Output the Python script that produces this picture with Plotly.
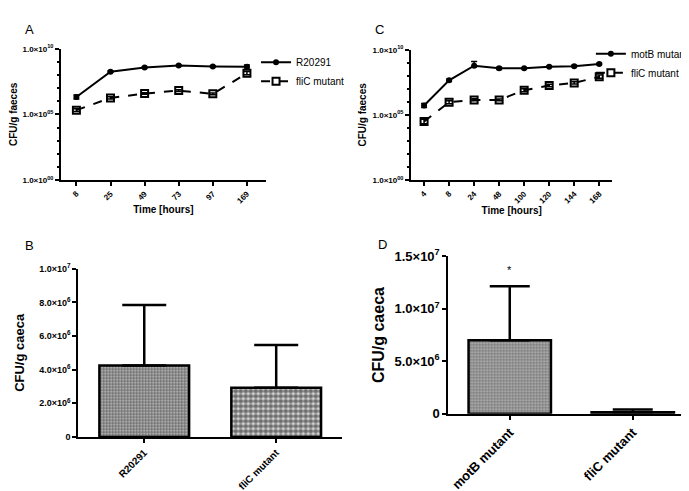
import plotly.graph_objects as go

# Panel A - faecal shedding, R20291 vs fliC mutant
hours_a = ["8", "25", "49", "73", "97", "169"]
r20291_a = [2.1e6, 1.8e8, 3.8e8, 5.2e8, 4.5e8, 4.2e8]
r20291_a_up = [0.9e6, 0.3e8, 0.4e8, 0.5e8, 0.5e8, 1.6e8]
r20291_a_lo = [0.6e6, 0.2e8, 0.3e8, 0.4e8, 0.4e8, 0.6e8]
flic_a = [2.1e5, 1.8e6, 3.9e6, 6.5e6, 3.7e6, 1.35e8]
flic_a_up = [0.6e5, 0.4e6, 0.6e6, 1.2e6, 0.6e6, 0.5e8]
flic_a_lo = [0.4e5, 0.3e6, 0.5e6, 0.9e6, 0.5e6, 0.3e8]

# Panel C - faecal shedding, motB vs fliC mutant
hours_c = ["4", "8", "24", "48", "100", "120", "144", "168"]
motb_c = [5.2e5, 4.5e7, 5.9e8, 3.7e8, 3.7e8, 5.0e8, 5.5e8, 7.9e8]
motb_c_up = [2.2e5, 1.2e7, 6.7e8, 0.8e8, 0.5e8, 0.7e8, 0.8e8, 1.2e8]
motb_c_lo = [1.5e5, 0.9e7, 1.2e8, 0.6e8, 0.4e8, 0.5e8, 0.6e8, 0.9e8]
flic_c = [3.1e4, 9.3e5, 1.4e6, 1.4e6, 7.8e6, 1.8e7, 2.8e7, 8.5e7]
flic_c_up = [1.6e4, 3.0e5, 3.0e5, 2.5e5, 2.5e6, 4.5e6, 7.0e6, 3.0e7]
flic_c_lo = [1.0e4, 2.0e5, 2.0e5, 2.0e5, 1.8e6, 3.5e6, 5.0e6, 2.0e7]

# Panel B - caecal counts
strains_b = ["R20291", "fliC mutant"]
caeca_b = [4.25e6, 2.93e6]
caeca_b_err = [3.59e6, 2.54e6]

# Panel D - caecal counts
strains_d = ["motB mutant", "fliC mutant"]
caeca_d = [7.0e6, 1.5e5]
caeca_d_err = [5.15e6, 2.5e5]

log_ticks = [1, 1e5, 1e10]
log_labels = ["1.0×10<sup>00</sup>", "1.0×10<sup>05</sup>", "1.0×10<sup>10</sup>"]
b_ticks = [0, 2e6, 4e6, 6e6, 8e6, 1e7]
b_labels = ["0", "2.0×10<sup>6</sup>", "4.0×10<sup>6</sup>", "6.0×10<sup>6</sup>",
            "8.0×10<sup>6</sup>", "1.0×10<sup>7</sup>"]
d_ticks = [0, 5e6, 1e7, 1.5e7]
d_labels = ["0", "5.0×10<sup>6</sup>", "1.0×10<sup>7</sup>", "1.5×10<sup>7</sup>"]

FONT = "Liberation Sans, Arial, sans-serif"

fig = go.Figure()

def err(up, lo):
    return dict(type="data", array=up, arrayminus=lo, symmetric=False,
                color="black", thickness=1.5, width=3)

fig.add_trace(go.Scatter(x=hours_a, y=r20291_a, error_y=err(r20291_a_up, r20291_a_lo), name="R20291",
                         mode="lines+markers", line=dict(color="black", width=2),
                         marker=dict(symbol="circle", size=6, color="black"),
                         xaxis="x", yaxis="y", legend="legend"))
fig.add_trace(go.Scatter(x=hours_a, y=flic_a, error_y=err(flic_a_up, flic_a_lo), name="fliC mutant",
                         mode="lines+markers", line=dict(color="black", width=2, dash="dash"),
                         marker=dict(symbol="square-open", size=7, color="black", line=dict(width=2)),
                         xaxis="x", yaxis="y", legend="legend"))

fig.add_trace(go.Scatter(x=hours_c, y=motb_c, error_y=err(motb_c_up, motb_c_lo), name="motB mutant",
                         mode="lines+markers", line=dict(color="black", width=2),
                         marker=dict(symbol="circle", size=6, color="black"),
                         xaxis="x2", yaxis="y2", legend="legend2"))
fig.add_trace(go.Scatter(x=hours_c, y=flic_c, error_y=err(flic_c_up, flic_c_lo), name="fliC mutant",
                         mode="lines+markers", line=dict(color="black", width=2, dash="dash"),
                         marker=dict(symbol="square-open", size=7, color="black", line=dict(width=2)),
                         xaxis="x2", yaxis="y2", legend="legend2"))

fig.add_trace(go.Bar(x=strains_b, y=caeca_b, width=0.68, showlegend=False,
                     error_y=dict(type="data", array=caeca_b_err, arrayminus=[0, 0],
                                  symmetric=False, color="black", thickness=2.5, width=22),
                     marker=dict(color="white", line=dict(color="black", width=2.5),
                                 pattern=dict(shape=".", fgcolor="black", bgcolor="#dddddd",
                                              size=[3, 5], solidity=0.7)),
                     xaxis="x3", yaxis="y3"))

fig.add_trace(go.Bar(x=strains_d, y=caeca_d, width=0.67, showlegend=False,
                     error_y=dict(type="data", array=caeca_d_err, arrayminus=[0, 0],
                                  symmetric=False, color="black", thickness=2.5, width=20),
                     marker=dict(color="white", line=dict(color="black", width=2.5),
                                 pattern=dict(shape=".", fgcolor="#333333", bgcolor="#bbbbbb",
                                              size=3, solidity=0.6)),
                     xaxis="x4", yaxis="y4"))

axis_common = dict(showline=True, linecolor="black", linewidth=2, ticks="outside",
                   tickcolor="black", tickwidth=1.5, ticklen=4, showgrid=False,
                   zeroline=False, color="black")

log_y = dict(axis_common, type="log", range=[0, 10], tickvals=log_ticks,
             ticktext=[f"<b>{t}</b>" for t in log_labels],
             tickfont=dict(size=8, family=FONT),
             minor=dict(tickvals=[10 ** k for k in range(11)], ticks="outside", ticklen=2,
                        tickcolor="black"),
             title=dict(text="<b>CFU/g faeces</b>", font=dict(size=10, family=FONT), standoff=4))

fig.update_layout(
    width=689, height=491,
    margin=dict(l=0, r=0, t=0, b=0),
    paper_bgcolor="white", plot_bgcolor="white",
    font=dict(family=FONT, color="black"),
    xaxis=dict(axis_common, domain=[0.077, 0.374], anchor="y", type="category",
               range=[-0.45, 5.55], tickangle=-45, tickfont=dict(size=8, family=FONT),
               tickvals=hours_a, ticktext=[f"<b>{c}</b>" for c in hours_a],
               title=dict(text="<b>Time [hours]</b>", font=dict(size=10, family=FONT), standoff=2)),
    yaxis=dict(log_y, domain=[0.656, 0.933], anchor="x"),
    xaxis2=dict(axis_common, domain=[0.585, 0.877], anchor="y2", type="category",
                range=[-0.52, 7.52], tickangle=-45, tickfont=dict(size=8, family=FONT),
                tickvals=hours_c, ticktext=[f"<b>{c}</b>" for c in hours_c],
                title=dict(text="<b>Time [hours]</b>", font=dict(size=10, family=FONT), standoff=2)),
    yaxis2=dict(log_y, domain=[0.656, 0.931], anchor="x2"),
    xaxis3=dict(axis_common, domain=[0.102, 0.485], anchor="y3", type="category",
                range=[-0.5, 1.5], tickangle=-45, tickfont=dict(size=10, family=FONT),
                tickvals=strains_b, ticktext=[f"<b>{c}</b>" for c in strains_b]),
    yaxis3=dict(axis_common, domain=[0.114, 0.469], anchor="x3", range=[0, 1e7],
                tickvals=b_ticks, ticktext=[f"<b>{t}</b>" for t in b_labels],
                tickfont=dict(size=9, family=FONT),
                title=dict(text="<b>CFU/g caeca</b>", font=dict(size=13, family=FONT), standoff=12)),
    xaxis4=dict(axis_common, domain=[0.639, 0.996], anchor="y4", type="category",
                range=[-0.5, 1.5], tickangle=-45, tickfont=dict(size=13, family=FONT),
                tickvals=strains_d, ticktext=[f"<b>{c}</b>" for c in strains_d]),
    yaxis4=dict(axis_common, domain=[0.163, 0.495], anchor="x4", range=[0, 1.5e7],
                tickvals=d_ticks, ticktext=[f"<b>{t}</b>" for t in d_labels],
                tickfont=dict(size=13, family=FONT),
                title=dict(text="<b>CFU/g caeca</b>", font=dict(size=16, family=FONT), standoff=6)),
    legend=dict(x=0.36, y=0.935, xanchor="left", yanchor="top", font=dict(size=10),
                bgcolor="rgba(0,0,0,0)", itemwidth=30, tracegroupgap=0),
    legend2=dict(x=0.846, y=0.953, xanchor="left", yanchor="top", font=dict(size=10),
                 bgcolor="rgba(0,0,0,0)", itemwidth=30, tracegroupgap=0),
    annotations=[
        dict(text="A", x=15 / 689, y=1 - 13 / 491, xref="paper", yref="paper", showarrow=False,
             font=dict(size=13), xanchor="left", yanchor="middle"),
        dict(text="C", x=365 / 689, y=1 - 13 / 491, xref="paper", yref="paper", showarrow=False,
             font=dict(size=13), xanchor="left", yanchor="middle"),
        dict(text="B", x=15 / 689, y=1 - 237 / 491, xref="paper", yref="paper", showarrow=False,
             font=dict(size=13), xanchor="left", yanchor="middle"),
        dict(text="D", x=368 / 689, y=1 - 236 / 491, xref="paper", yref="paper", showarrow=False,
             font=dict(size=13), xanchor="left", yanchor="middle"),
        dict(text="*", x="motB mutant", y=1.37e7, xref="x4", yref="y4", showarrow=False,
             font=dict(size=11), yanchor="middle"),
    ],
)

fig.write_html("out.html")
